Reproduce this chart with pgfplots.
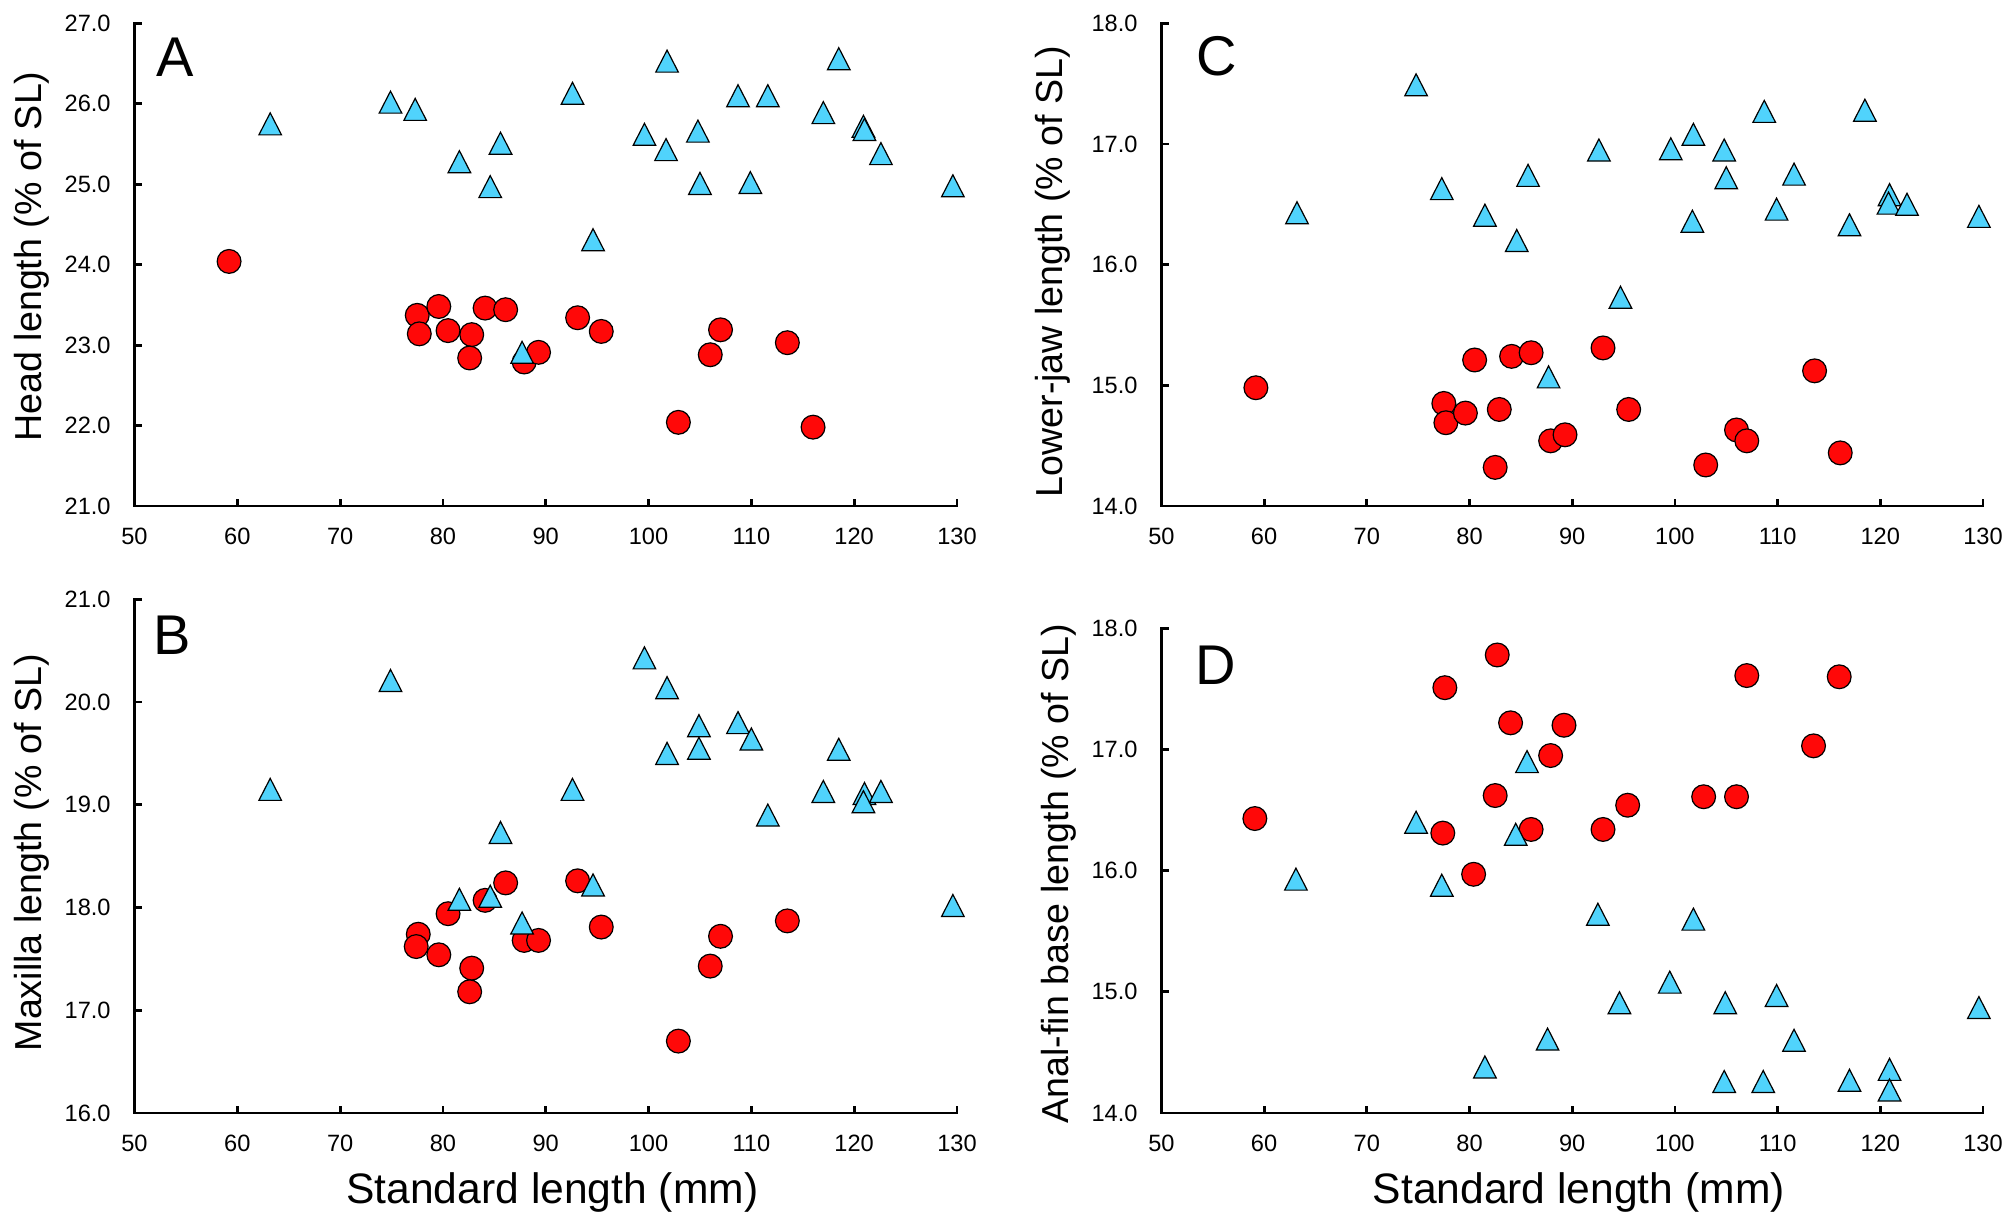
\documentclass[border=0pt]{standalone}
\usepackage{fontspec}
\setmainfont{Liberation Sans}
\usepackage{pgfplots}
\pgfplotsset{compat=1.18}

\definecolor{tcyan}{RGB}{80,211,252}
\definecolor{cred}{RGB}{255,8,8}

% Excel-style triangle, centred on its bounding box
\pgfdeclareplotmark{exceltri}{%
  \pgfpathmoveto{\pgfqpoint{0pt}{5.5pt}}%
  \pgfpathlineto{\pgfqpoint{-5.65pt}{-5.5pt}}%
  \pgfpathlineto{\pgfqpoint{5.65pt}{-5.5pt}}%
  \pgfpathclose
  \pgfusepathqfillstroke
}

\pgfplotsset{
  panel/.style={
    scale only axis,
    clip=false,
    axis lines=left,
    axis line style={-, line width=1.4pt, line cap=rect},
    xmin=50, xmax=130, xtick={50,60,...,130},
    tick align=inside,
    major tick length=3.6pt,
    tick style={line width=1.4pt, black},
    /pgf/number format/assume math mode=true,
    ticklabel style={font=\fontsize{11.8}{14}\selectfont},
    xticklabel style={anchor=north, inner sep=0pt, yshift=-11pt},
    yticklabel style={anchor=east, inner sep=0pt, xshift=-11.75pt,
      /pgf/number format/fixed, /pgf/number format/fixed zerofill,
      /pgf/number format/precision=1},
    ylabel style={font=\fontsize{18.8}{22}\selectfont, inner sep=0pt, anchor=base},
    xlabel style={font=\fontsize{21.3}{25}\selectfont, inner sep=0pt, anchor=base,
      at={([yshift=-45pt]axis description cs:0.508,0)}},
  },
  circ/.style={only marks, mark=*, mark size=5.95pt,
    mark options={fill=cred, draw=black, line width=0.6pt}},
  tri/.style={only marks, mark=exceltri,
    mark options={fill=tcyan, draw=black, line width=0.6pt}},
}

\newcommand{\panelletter}[3]{%
  \node[anchor=base west, inner sep=0pt, font=\fontsize{28}{32}\selectfont]
    at ([xshift=#2, yshift=#3]rel axis cs:0,1) {#1};}

\begin{document}
\begin{tikzpicture}
\path[use as bounding box] (0,0) rectangle (1006pt,611.5pt);

% ---------- A ----------
\begin{axis}[panel, at={(67.25pt,358.5pt)}, anchor=south west,
  width=411.25pt, height=241.35pt,
  ymin=21, ymax=27, ytick={21,22,...,27},
  ylabel={Head length (\% of SL)},
  ylabel style={at={([xshift=-46.5pt]axis description cs:0,0.517)}}]
\addplot[circ] coordinates {
 (59.2,24.04) (77.5,23.37) (77.7,23.14) (79.6,23.48) (80.5,23.18) (82.8,23.13)
 (82.6,22.84) (84.1,23.46) (86.1,23.44) (87.9,22.79) (89.3,22.91) (93.1,23.34)
 (95.4,23.17) (102.9,22.04) (106.0,22.88) (107.0,23.19) (113.5,23.03) (116.0,21.98)
};
\addplot[tri] coordinates {
 (63.2,25.75) (74.9,26.02) (77.3,25.93) (81.6,25.28) (84.6,24.97) (85.6,25.51)
 (87.7,22.91) (92.6,26.13) (94.6,24.31) (99.6,25.62) (101.8,26.53) (101.7,25.43)
 (104.8,25.66) (105.0,25.01) (108.7,26.10) (109.9,25.02) (111.6,26.10) (117.0,25.89)
 (118.5,26.56) (120.9,25.72) (121.0,25.68) (122.6,25.38) (129.6,24.98)
};
\panelletter{A}{10.75pt}{-26.35pt}
\end{axis}

% ---------- C ----------
\begin{axis}[panel, at={(580.7pt,358.5pt)}, anchor=south west,
  width=410.8pt, height=241.35pt,
  ymin=14, ymax=18, ytick={14,15,...,18},
  ylabel={Lower-jaw length (\% of SL)},
  ylabel style={at={([xshift=-49.5pt]axis description cs:0,0.4855)}}]
\addplot[circ] coordinates {
 (59.2,14.98) (77.5,14.85) (77.7,14.69) (79.6,14.77) (80.5,15.21) (82.5,14.32)
 (82.9,14.80) (84.1,15.24) (86.0,15.27) (87.9,14.54) (89.3,14.59) (93.0,15.31)
 (95.5,14.80) (103.0,14.34) (106.0,14.63) (107.0,14.54) (113.6,15.12) (116.1,14.44)
};
\addplot[tri] coordinates {
 (63.2,16.43) (74.8,17.49) (77.3,16.63) (81.5,16.41) (84.6,16.20) (85.7,16.74)
 (87.7,15.07) (92.6,16.95) (94.7,15.73) (99.6,16.96) (101.8,17.08) (101.7,16.36)
 (104.8,16.95) (105.0,16.72) (108.7,17.27) (109.9,16.46) (111.6,16.75) (117.0,16.33)
 (118.5,17.28) (120.9,16.58) (120.8,16.51) (122.6,16.50) (129.6,16.40)
};
\panelletter{C}{17.1pt}{-26.1pt}
\end{axis}

% ---------- B ----------
\begin{axis}[panel, at={(67.25pt,55pt)}, anchor=south west,
  width=411.25pt, height=256.85pt,
  ymin=16, ymax=21, ytick={16,17,...,21},
  xlabel={Standard length (mm)},
  ylabel={Maxilla length (\% of SL)},
  ylabel style={at={([xshift=-46.5pt]axis description cs:0,0.5066)}}]
\addplot[circ] coordinates {
 (77.6,17.74) (77.4,17.62) (79.6,17.54) (80.5,17.94) (82.8,17.41) (82.6,17.18)
 (84.1,18.07) (86.1,18.24) (87.9,17.68) (89.3,17.68) (93.1,18.26) (95.4,17.81)
 (102.9,16.70) (106.0,17.43) (107.0,17.72) (113.5,17.87)
};
\addplot[tri] coordinates {
 (63.2,19.15) (74.9,20.21) (81.6,18.08) (84.6,18.11) (85.6,18.73) (87.7,17.85)
 (92.6,19.15) (94.6,18.22) (99.6,20.43) (101.8,20.14) (101.8,19.50) (104.9,19.77)
 (104.9,19.55) (108.7,19.80) (110.0,19.64) (111.6,18.90) (117.0,19.13) (118.5,19.54)
 (121.0,19.11) (120.9,19.03) (122.6,19.13) (129.6,18.02)
};
\panelletter{B}{9.25pt}{-27.45pt}
\end{axis}

% ---------- D ----------
\begin{axis}[panel, at={(580.7pt,55pt)}, anchor=south west,
  width=410.8pt, height=242.35pt,
  ymin=14, ymax=18, ytick={14,15,...,18},
  xlabel={Standard length (mm)},
  ylabel={Anal-fin base length (\% of SL)},
  ylabel style={at={([xshift=-46.7pt]axis description cs:0,0.494)}}]
\addplot[circ] coordinates {
 (59.1,16.43) (77.6,17.51) (77.4,16.31) (80.4,15.97) (82.5,16.62) (82.7,17.78)
 (84.0,17.22) (86.0,16.34) (87.9,16.95) (89.2,17.20) (93.0,16.34) (95.4,16.54)
 (102.8,16.61) (106.0,16.61) (107.0,17.61) (113.5,17.03) (116.0,17.60)
};
\addplot[tri] coordinates {
 (63.1,15.93) (74.8,16.40) (77.3,15.88) (81.5,14.38) (84.5,16.30) (85.6,16.90)
 (87.6,14.61) (92.5,15.64) (94.6,14.91) (99.5,15.08) (101.8,15.60) (104.9,14.91)
 (104.8,14.26) (108.6,14.26) (109.9,14.97) (111.6,14.60) (117.0,14.27) (120.9,14.36)
 (120.9,14.19) (129.6,14.87)
};
\panelletter{D}{16.7pt}{-27.85pt}
\end{axis}
\end{tikzpicture}
\end{document}
